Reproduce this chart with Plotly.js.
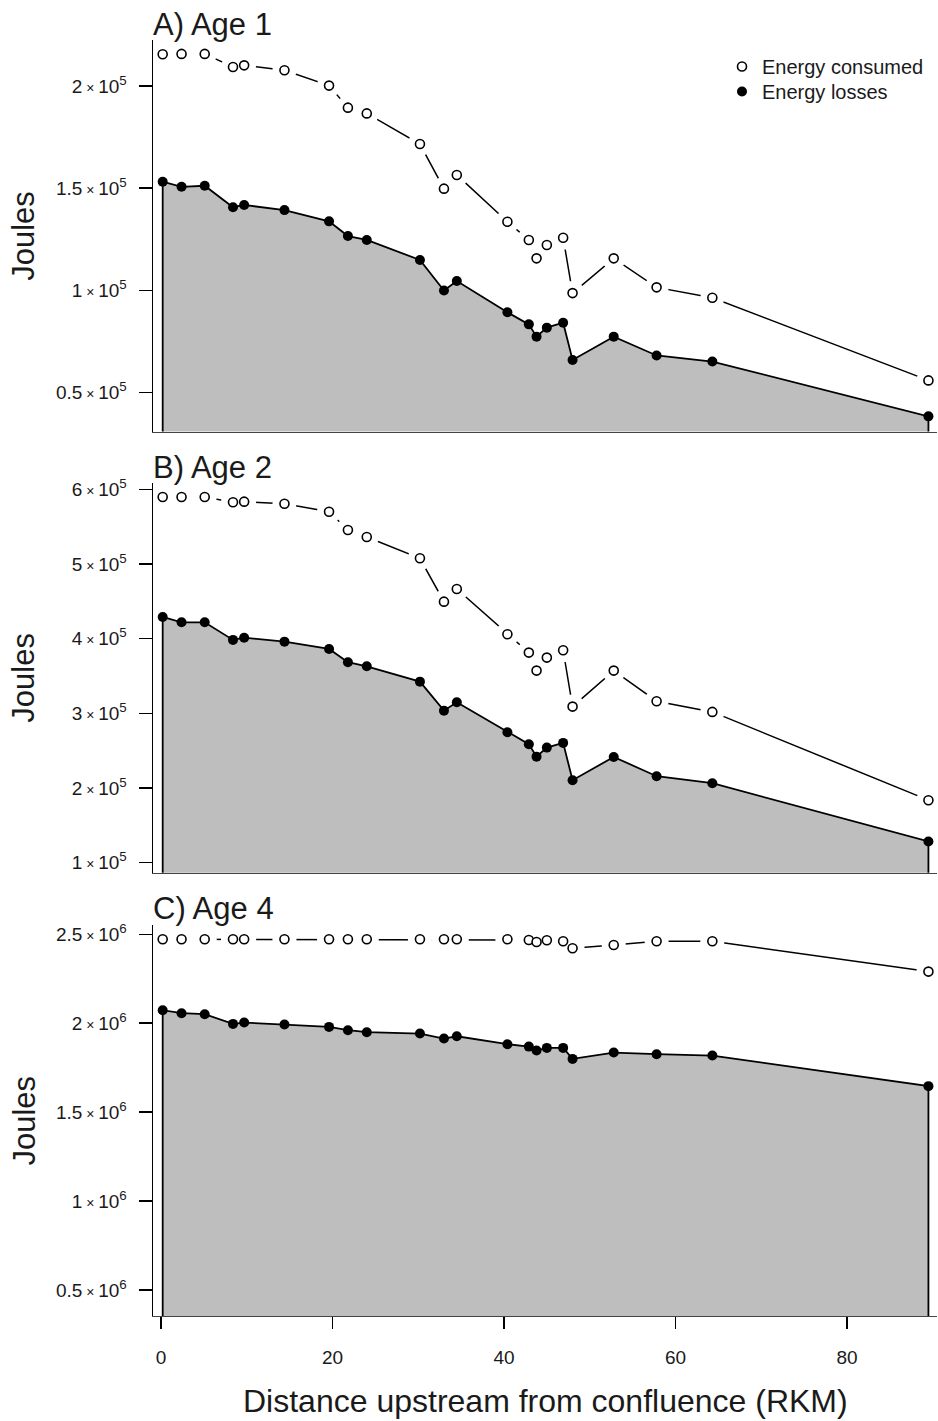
<!DOCTYPE html>
<html>
<head>
<meta charset="utf-8">
<script src="https://cdn.plot.ly/plotly-3.0.1.min.js"></script>
<style>
  html, body { margin: 0; padding: 0; background: #ffffff; }
  #chart { width: 938px; height: 1421px; }
</style>
</head>
<body>
<div id="chart"></div>
<script>
// ---- Data ----
const rkm = [0.2, 2.4, 5.1, 8.4, 9.7, 14.4, 19.6, 21.8, 24.0, 30.2, 33.0, 34.5,
             40.4, 42.9, 43.8, 45.0, 46.9, 48.0, 52.8, 57.8, 64.3, 89.5];

const age1Consumed = [215500, 215700, 215700, 209300, 210100, 207700, 200200, 189400, 186600, 171600, 149800, 156500,
                      133600, 124700, 115700, 122200, 125800, 98700, 115700, 101500, 96400, 56000];
const age1Losses   = [153200, 150700, 151200, 140700, 141800, 139300, 133800, 126600, 124700, 114900, 100000, 104600,
                      89300, 83400, 77400, 81800, 84200, 66000, 77400, 68200, 65200, 38400];

const age2Consumed = [589700, 589700, 589700, 582600, 583400, 580700, 570000, 545500, 536100, 507600, 449500, 466500,
                      405900, 381300, 357200, 374600, 384500, 309000, 357200, 316200, 301900, 183700];
const age2Losses   = [429000, 421900, 421900, 398300, 401300, 396000, 386200, 368400, 363000, 342400, 303600, 314900,
                      274700, 258600, 242000, 254100, 260400, 210400, 241600, 215800, 206400, 128400];

const age4Consumed = [2472000, 2472000, 2472000, 2472000, 2472000, 2472000, 2472000, 2472000, 2472000, 2472000, 2472000, 2472000,
                      2472000, 2468000, 2456700, 2466200, 2460600, 2421300, 2439900, 2460600, 2460600, 2290000];
const age4Losses   = [2073000, 2056200, 2050600, 1996100, 2003500, 1992200, 1979200, 1960600, 1949400, 1941600, 1913500, 1926500,
                      1882000, 1868500, 1846100, 1861200, 1861200, 1799400, 1834800, 1825800, 1818000, 1646100];

const panelTitles = ["A) Age 1", "B) Age 2", "C) Age 4"];
const seriesNames = ["Energy consumed", "Energy losses"];

const ticksA = [50000, 100000, 150000, 200000];
const tickTextA = ["0.5", "1", "1.5", "2"];
const ticksB = [100000, 200000, 300000, 400000, 500000, 600000];
const tickTextB = ["1", "2", "3", "4", "5", "6"];
const ticksC = [500000, 1000000, 1500000, 2000000, 2500000];
const tickTextC = ["0.5", "1", "1.5", "2", "2.5"];
const xTicks = [0, 20, 40, 60, 80];

const xTitle = "Distance upstream from confluence (RKM)";
const yTitle = "Joules";

// ---- Layout helpers ----
const W = 938, H = 1421;
const FONT = "Liberation Sans, Arial, sans-serif";
const px = p => p / W;
const py = p => 1 - p / H;

function sci(mant, exp) {
  return mant + "\u2009<span style='font-size:14px'>×</span>\u200910<sup>" + exp + "</sup>";
}

const panels = [
  { cons: age1Consumed, loss: age1Losses, top: 40, bottom: 431.5, range: [31000, 222500],
    tv: ticksA, tt: tickTextA.map(m => sci(m, 5)), legend: true },
  { cons: age2Consumed, loss: age2Losses, top: 482.7, bottom: 872.7, range: [86600, 608800],
    tv: ticksB, tt: tickTextB.map(m => sci(m, 5)), legend: false },
  { cons: age4Consumed, loss: age4Losses, top: 925, bottom: 1316, range: [354000, 2552000],
    tv: ticksC, tt: tickTextC.map(m => sci(m, 6)), legend: false }
];

const legendBase = {
  xanchor: "left", yanchor: "top",
  font: { family: FONT, size: 20, color: "#1a1a1a" },
  bgcolor: "rgba(0,0,0,0)", borderwidth: 0,
  itemclick: false, itemdoubleclick: false
};

const traces = [];
const layout = {
  width: W, height: H,
  margin: { l: 0, r: 0, t: 0, b: 0 },
  paper_bgcolor: "#ffffff", plot_bgcolor: "rgba(0,0,0,0)",
  font: { family: FONT, color: "#000000" },
  showlegend: true,
  legend: Object.assign({ x: px(722), y: py(47) }, legendBase),
  legend2: Object.assign({ x: px(722), y: py(72) }, legendBase),
  annotations: [],
  hovermode: false
};

panels.forEach((p, i) => {
  const n = i + 1;
  const xa = n === 1 ? "x" : "x" + n;
  const ya = n === 1 ? "y" : "y" + n;
  const xk = n === 1 ? "xaxis" : "xaxis" + n;
  const yk = n === 1 ? "yaxis" : "yaxis" + n;
  const isBottom = (n === 3);

  layout[xk] = {
    domain: [px(153), px(937)], range: [-0.93, 90.5], anchor: ya,
    showline: true, linecolor: "#444444", linewidth: 1.3, layer: "above traces",
    showgrid: false, zeroline: false, fixedrange: true,
    ticks: isBottom ? "outside" : "", ticklen: 12, tickwidth: 1.5, tickcolor: "#000",
    tickvals: xTicks, showticklabels: isBottom, ticklabelstandoff: 12,
    tickfont: { family: FONT, size: 19, color: "#1a1a1a" }
  };
  layout[yk] = {
    domain: [py(p.bottom), py(p.top)], range: p.range, anchor: xa,
    showline: true, linecolor: "#000000", linewidth: 1.5,
    showgrid: false, zeroline: false, fixedrange: true,
    ticks: "outside", ticklen: 13, tickwidth: 1.5, tickcolor: "#000",
    tickvals: p.tv, ticktext: p.tt, ticklabelstandoff: 8,
    tickfont: { family: FONT, size: 19, color: "#1a1a1a" }
  };

  // filled polygon under the losses curve
  const last = rkm.length - 1;
  traces.push({
    x: [rkm[0]].concat(rkm, [rkm[last]]),
    y: [0].concat(p.loss, [0]),
    xaxis: xa, yaxis: ya, mode: "lines", fill: "toself",
    fillcolor: "#BEBEBE", line: { color: "#000000", width: 1.8 },
    showlegend: false, hoverinfo: "skip"
  });
  // losses points
  traces.push({
    x: rkm, y: p.loss, xaxis: xa, yaxis: ya, mode: "markers",
    name: seriesNames[1], legend: "legend2", showlegend: p.legend,
    marker: { symbol: "circle", size: 10, color: "#000000", line: { width: 0 } }
  });
  // consumed connecting line
  traces.push({
    x: rkm, y: p.cons, xaxis: xa, yaxis: ya, mode: "lines",
    line: { color: "#000000", width: 1.5 }, showlegend: false, hoverinfo: "skip"
  });
  // white gaps around consumed points (type = "b" look)
  traces.push({
    x: rkm, y: p.cons, xaxis: xa, yaxis: ya, mode: "markers",
    marker: { symbol: "circle", size: 24, color: "#ffffff", line: { width: 0 } },
    showlegend: false, hoverinfo: "skip"
  });
  // consumed open circles
  traces.push({
    x: rkm, y: p.cons, xaxis: xa, yaxis: ya, mode: "markers",
    name: seriesNames[0], legend: "legend", showlegend: p.legend,
    marker: { symbol: "circle", size: 9, color: "#ffffff", line: { color: "#000000", width: 1.6 } }
  });

  // panel title
  layout.annotations.push({
    text: panelTitles[i], xref: "paper", yref: "paper",
    x: px(151), y: py([25, 467.5, 908][i]), xanchor: "left", yanchor: "middle",
    showarrow: false, font: { family: FONT, size: 31, color: "#1a1a1a" }
  });
  // y title
  layout.annotations.push({
    text: yTitle, xref: "paper", yref: "paper",
    x: px(24), y: py((p.top + p.bottom) / 2), xanchor: "center", yanchor: "middle",
    textangle: -90, showarrow: false, font: { family: FONT, size: 31, color: "#1a1a1a" }
  });
});

// x title
layout.annotations.push({
  text: xTitle, xref: "paper", yref: "paper",
  x: px(545), y: py(1401), xanchor: "center", yanchor: "middle",
  showarrow: false, font: { family: FONT, size: 32, color: "#1a1a1a" }
});

Plotly.newPlot("chart", traces, layout, { displayModeBar: false, staticPlot: true });
</script>
</body>
</html>
